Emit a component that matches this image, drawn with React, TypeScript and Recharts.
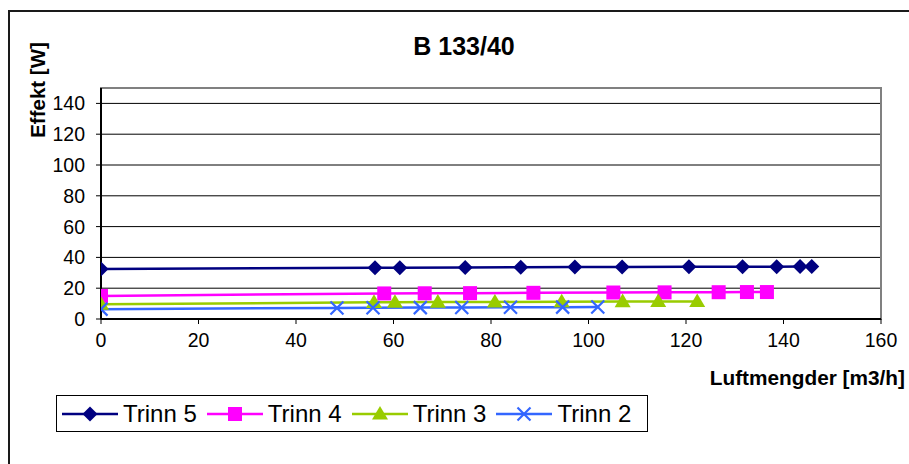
import React from "react"
import {
  LineChart, Line, XAxis, YAxis, CartesianGrid, ReferenceArea,
} from "recharts"

// Luftmengder [m3/h] and Effekt [W] per step
const trinn5X = [0, 56.2, 61.3, 74.7, 86.1, 97.2, 106.9, 120.6, 131.6, 138.6, 143.4, 145.8]
const trinn5Y = [32.5, 33.2, 33.3, 33.5, 33.6, 33.7, 33.8, 33.9, 34, 34, 34.1, 34.1]

const trinn4X = [0, 58.1, 66.4, 75.7, 88.7, 105.1, 115.6, 126.7, 132.5, 136.6]
const trinn4Y = [15, 16.6, 16.7, 16.8, 17, 17.2, 17.3, 17.4, 17.5, 17.5]

const trinn3X = [0, 56, 60.3, 69.1, 80.8, 94.5, 107, 114.3, 122.3]
const trinn3Y = [9.6, 10.8, 10.9, 11, 11.1, 11.2, 11.3, 11.4, 11.4]

const trinn2X = [0, 48.4, 55.8, 65.5, 74, 84, 94.7, 101.9]
const trinn2Y = [6.4, 7.2, 7.3, 7.4, 7.5, 7.6, 7.7, 7.8]

const X_TICKS = [0, 20, 40, 60, 80, 100, 120, 140, 160]
const Y_TICKS = [0, 20, 40, 60, 80, 100, 120, 140]

const FONT = "'Liberation Sans', Arial, sans-serif"

const toRows = (xs: number[], ys: number[]) => xs.map((x, i) => ({ x, y: ys[i] }))

type Shape = "diamond" | "square" | "triangle" | "cross"

function Marker({ shape, cx, cy, color }: { shape: Shape; cx: number; cy: number; color: string }) {
  if (cx == null || cy == null) return null
  if (shape === "diamond") {
    const r = 7.5
    return <polygon points={`${cx},${cy - r} ${cx + r},${cy} ${cx},${cy + r} ${cx - r},${cy}`} fill={color} />
  }
  if (shape === "square") {
    const r = 7
    return <rect x={cx - r} y={cy - r} width={2 * r} height={2 * r} fill={color} />
  }
  if (shape === "triangle") {
    const r = 8
    return <polygon points={`${cx},${cy - r} ${cx + r},${cy + r * 0.7} ${cx - r},${cy + r * 0.7}`} fill={color} />
  }
  const r = 6.5
  return (
    <g stroke={color} strokeWidth={2.2}>
      <line x1={cx - r} y1={cy - r} x2={cx + r} y2={cy + r} />
      <line x1={cx - r} y1={cy + r} x2={cx + r} y2={cy - r} />
    </g>
  )
}

const SERIES = [
  { name: "Trinn 5", data: toRows(trinn5X, trinn5Y), color: "#000080", shape: "diamond" as Shape },
  { name: "Trinn 4", data: toRows(trinn4X, trinn4Y), color: "#FF00FF", shape: "square" as Shape },
  { name: "Trinn 3", data: toRows(trinn3X, trinn3Y), color: "#99CC00", shape: "triangle" as Shape },
  { name: "Trinn 2", data: toRows(trinn2X, trinn2Y), color: "#3366FF", shape: "cross" as Shape },
]

function LegendBox() {
  return (
    <div style={{
      position: "absolute", left: 56, top: 395, width: 592, height: 37,
      border: "1px solid #000", display: "flex", alignItems: "center",
      boxSizing: "border-box", paddingLeft: 5, fontFamily: FONT, fontSize: 24, background: "#fff",
    }}>
      {SERIES.map((s) => (
        <div key={s.name} style={{ display: "flex", alignItems: "center", marginRight: 10 }}>
          <svg width={56} height={20}>
            <line x1={0} y1={10} x2={56} y2={10} stroke={s.color} strokeWidth={2.5} />
            <Marker shape={s.shape} cx={28} cy={10} color={s.color} />
          </svg>
          <span style={{ marginLeft: 5, color: "#000", lineHeight: 1 }}>{s.name}</span>
        </div>
      ))}
    </div>
  )
}

export default function App() {
  return (
    <div style={{ position: "absolute", left: 0, top: 0, width: 909, height: 464, overflow: "hidden", background: "#fff", fontFamily: FONT }}>
      <div style={{ position: "absolute", left: 8, top: 10, width: 940, height: 500, border: "2px solid #1a1a1a", boxSizing: "border-box" }} />
      <div style={{ position: "absolute", left: 0, top: 32, width: 928, textAlign: "center", fontWeight: "bold", fontSize: 25, color: "#000" }}>
        B 133/40
      </div>
      <div style={{
        position: "absolute", left: 38, top: 90, transform: "translate(-50%, -50%) rotate(-90deg)",
        fontWeight: "bold", fontSize: 20.5, whiteSpace: "nowrap", color: "#000",
      }}>
        Effekt [W]
      </div>
      <div style={{ position: "absolute", right: 4, top: 366, fontWeight: "bold", fontSize: 20.8, color: "#000", whiteSpace: "nowrap" }}>
        Luftmengder [m3/h]
      </div>
      <div style={{ position: "absolute", left: 0, top: 0 }}>
        <LineChart width={909} height={464} margin={{ top: 88, right: 28, left: 41, bottom: 115 }}>
          <CartesianGrid horizontal vertical={false} stroke="#000" strokeWidth={1} />
          <XAxis
            type="number" dataKey="x" domain={[0, 160]} ticks={X_TICKS} allowDataOverflow
            tick={{ fill: "#000", fontSize: 19.5, fontFamily: FONT }} tickSize={5} tickMargin={9}
            axisLine={{ stroke: "#000", strokeWidth: 2 }} tickLine={{ stroke: "#000" }} height={30}
          />
          <YAxis
            type="number" dataKey="y" domain={[0, 150]} ticks={Y_TICKS} allowDataOverflow
            tick={{ fill: "#000", fontSize: 19.5, fontFamily: FONT }} tickSize={5} tickMargin={11}
            axisLine={{ stroke: "#000", strokeWidth: 2 }} tickLine={{ stroke: "#000" }} width={60}
          />
          <ReferenceArea x1={0} x2={160} y1={0} y2={150} fill="none" stroke="#808080" strokeWidth={2} />
          {SERIES.map((s) => (
            <Line
              key={s.name} data={s.data} dataKey="y" name={s.name} stroke={s.color} strokeWidth={2.5}
              isAnimationActive={false} legendType="none"
              dot={(p: any) => <Marker key={`${s.name}-${p.index}`} shape={s.shape} cx={p.cx} cy={p.cy} color={s.color} />}
              activeDot={false}
            />
          ))}
        </LineChart>
      </div>
      <LegendBox />
    </div>
  )
}
